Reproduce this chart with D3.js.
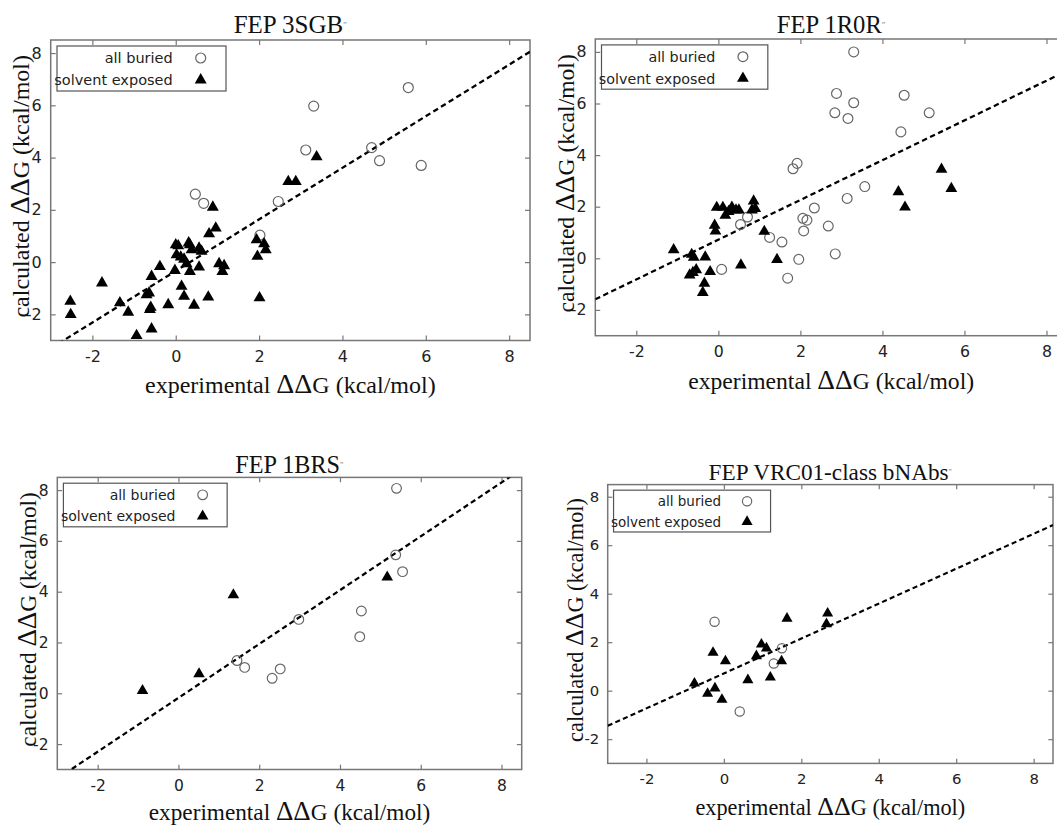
<!DOCTYPE html>
<html>
<head>
<meta charset="utf-8">
<script src="https://cdn.jsdelivr.net/npm/d3@7"></script>
<style>
  body { margin: 0; background: #fff; }
</style>
</head>
<body>
<div id="chart"></div>
<script>
// tick values shared by every panel
var xTicks = [-2, 0, 2, 4, 6, 8];
var yTicks = [-2, 0, 2, 4, 6, 8];
var seriesNames = ["all buried", "solvent exposed"];
var titles = ["FEP 3SGB", "FEP 1R0R", "FEP 1BRS", "FEP VRC01-class bNAbs"];

// [experimental, calculated] pairs
var buried3SGB = [[0.47, 2.60], [0.67, 2.25], [2.46, 2.32], [3.12, 4.29], [3.31, 5.97], [4.70, 4.38],
  [4.89, 3.88], [5.58, 6.68], [5.89, 3.70], [2.02, 1.03]];
var exposed3SGB = [[-2.53, -1.50], [-2.52, -2.01], [-1.77, -0.80], [-1.34, -1.56], [-1.14, -1.92],
  [-0.94, -2.81], [-0.70, -1.25], [-0.64, -1.18], [-0.58, -0.55], [-0.60, -1.73], [-0.62, -1.82],
  [-0.58, -2.56], [-0.38, -0.17], [-0.18, -1.63], [-0.02, -0.32], [0.00, 0.66], [0.02, 0.28],
  [0.06, 0.62], [0.12, 0.19], [0.14, -0.93], [0.20, -1.31], [0.20, 0.11], [0.26, -0.06], [0.31, 0.73],
  [0.34, 0.66], [0.34, -0.36], [0.38, 0.47], [0.44, -1.65], [0.56, 0.53], [0.56, -0.19], [0.62, 0.41],
  [0.78, -1.34], [0.80, 1.08], [0.89, 2.10], [0.96, 1.30], [1.04, -0.06], [1.12, -0.36], [1.16, -0.14],
  [1.94, 0.85], [1.96, 0.22], [2.01, -1.37], [2.12, 0.70], [2.16, 0.47], [2.70, 3.08], [2.88, 3.08],
  [3.38, 4.03]];
var fit3SGB = [[-3, -3.30], [8.5, 8.05]];

var buried1R0R = [[3.30, 8.00], [2.88, 6.39], [2.84, 5.64], [3.30, 6.03], [3.16, 5.42], [4.53, 6.32],
  [5.14, 5.64], [4.45, 4.90], [1.92, 3.68], [1.82, 3.47], [3.57, 2.78], [3.14, 2.32], [2.34, 1.95],
  [2.06, 1.55], [2.16, 1.48], [2.08, 1.06], [2.68, 1.25], [1.25, 0.81], [1.55, 0.63], [0.54, 1.31],
  [0.71, 1.60], [0.08, -0.43], [1.96, -0.04], [1.69, -0.77], [2.85, 0.17]];
var exposed1R0R = [[-1.09, 0.33], [-0.65, 0.15], [-0.60, 0.04], [-0.32, 0.05], [-0.70, -0.65],
  [-0.62, -0.55], [-0.54, -0.45], [-0.20, -0.52], [-0.34, -0.97], [-0.38, -1.33], [-0.09, 1.28],
  [-0.07, 1.05], [-0.04, 1.97], [0.11, 1.97], [0.17, 1.66], [0.25, 1.81], [0.33, 1.98], [0.43, 1.87],
  [0.50, 1.87], [0.86, 2.22], [0.90, 1.93], [0.82, 1.87], [1.12, 1.04], [0.55, -0.26], [1.43, -0.05],
  [4.39, 2.58], [4.55, 1.98], [5.44, 3.45], [5.68, 2.70]];
var fit1R0R = [[-3, -1.59], [8.5, 7.27]];

var buried1BRS = [[5.40, 8.07], [5.38, 5.45], [5.55, 4.79], [4.53, 3.24], [4.49, 2.23], [2.98, 2.91],
  [1.45, 1.29], [1.64, 1.02], [2.32, 0.59], [2.52, 0.96]];
var exposed1BRS = [[-0.89, 0.10], [0.51, 0.76], [1.36, 3.87], [5.17, 4.57]];
var fit1BRS = [[-3, -3.36], [8.5, 8.83]];

var buriedVRC01 = [[-0.24, 2.84], [1.50, 1.75], [1.29, 1.12], [0.41, -0.86]];
var exposedVRC01 = [[-0.76, 0.30], [-0.42, -0.12], [-0.23, 0.10], [-0.05, -0.37], [-0.28, 1.57],
  [0.04, 1.22], [0.62, 0.44], [0.97, 1.91], [1.10, 1.75], [0.84, 1.43], [1.20, 0.55], [1.49, 1.22],
  [1.63, 2.98], [2.68, 3.19], [2.65, 2.75]];
var fitVRC01 = [[-3, -1.45], [8.5, 6.83]];

var width = 1057, height = 827;
var serif = "'Liberation Serif', 'Times New Roman', serif";
var sans = "'DejaVu Sans', sans-serif";

// where each panel sits on the page
var panels = [
  { title: titles[0], buried: buried3SGB, exposed: exposed3SGB, fit: fit3SGB,
    left: 50.7, right: 530, top: 40, bottom: 340.5, titleY: 33, xlabY: 393, ylabX: 29 },
  { title: titles[1], buried: buried1R0R, exposed: exposed1R0R, fit: fit1R0R,
    left: 595.3, right: 1067, top: 39, bottom: 335.7, titleY: 33, xlabY: 389, ylabX: 574 },
  { title: titles[2], buried: buried1BRS, exposed: exposed1BRS, fit: fit1BRS,
    left: 57.3, right: 521.7, top: 477.4, bottom: 769.5, titleY: 473, xlabY: 820, ylabX: 36 },
  { title: titles[3], buried: buriedVRC01, exposed: exposedVRC01, fit: fitVRC01,
    left: 607.7, right: 1053, top: 484.6, bottom: 763.4, titleY: 480, xlabY: 815, ylabX: 583 }
];

var svg = d3.select("#chart").append("svg")
  .attr("width", width).attr("height", height)
  .style("background", "#fff");

var fmt = function (d) { return String(d); };

panels.forEach(function (p, i) {
  var k = (p.right - p.left) / 479.3;
  var x = d3.scaleLinear().domain([-3, 8.5]).range([p.left, p.right]);
  var y = d3.scaleLinear().domain([-3, 8.5]).range([p.bottom, p.top]);
  var g = svg.append("g");

  var clipId = "clip" + i;
  svg.append("clipPath").attr("id", clipId).append("rect")
    .attr("x", p.left).attr("y", p.top)
    .attr("width", p.right - p.left).attr("height", p.bottom - p.top);

  var tl = 5 * k;
  g.append("g").attr("transform", "translate(0," + p.bottom + ")")
    .call(d3.axisBottom(x).tickValues(xTicks).tickSizeInner(-tl).tickSizeOuter(0).tickPadding(10.5 * k).tickFormat(fmt));
  g.append("g").attr("transform", "translate(0," + p.top + ")")
    .call(d3.axisTop(x).tickValues(xTicks).tickSizeInner(-tl).tickSizeOuter(0).tickFormat(""));
  g.append("g").attr("transform", "translate(" + p.left + ",0)")
    .call(d3.axisLeft(y).tickValues(yTicks).tickSizeInner(-tl).tickSizeOuter(0).tickPadding(9 * k).tickFormat(fmt));
  g.append("g").attr("transform", "translate(" + p.right + ",0)")
    .call(d3.axisRight(y).tickValues(yTicks).tickSizeInner(-tl).tickSizeOuter(0).tickFormat(""));

  g.selectAll(".domain").remove();
  g.selectAll(".tick line").attr("stroke", "#777").attr("stroke-width", 1.2);
  g.selectAll(".tick text").attr("fill", "#222")
    .style("font-family", sans).style("font-size", (16 * k) + "px");

  g.append("rect")
    .attr("x", p.left).attr("y", p.top)
    .attr("width", p.right - p.left).attr("height", p.bottom - p.top)
    .attr("fill", "none").attr("stroke", "#777").attr("stroke-width", 1.5);

  // dashed fit line
  g.append("path").datum(p.fit)
    .attr("clip-path", "url(#" + clipId + ")")
    .attr("d", d3.line().x(function (d) { return x(d[0]); }).y(function (d) { return y(d[1]); }))
    .attr("fill", "none").attr("stroke", "#000")
    .attr("stroke-width", 2.3 * k).attr("stroke-dasharray", (5.5 * k) + "," + (3.5 * k));

  var pts = g.append("g").attr("clip-path", "url(#" + clipId + ")");
  pts.selectAll("circle").data(p.buried).enter().append("circle")
    .attr("cx", function (d) { return x(d[0]); })
    .attr("cy", function (d) { return y(d[1]); })
    .attr("r", 5 * k)
    .attr("fill", "none").attr("stroke", "#666").attr("stroke-width", 1.2);

  var tri = d3.symbol().type(d3.symbolTriangle).size(62 * k * k);
  pts.selectAll("path.tri").data(p.exposed).enter().append("path")
    .attr("class", "tri")
    .attr("d", tri)
    .attr("transform", function (d) { return "translate(" + x(d[0]) + "," + y(d[1]) + ")"; })
    .attr("fill", "#000");

  // legend
  var lg = g.append("g");
  lg.append("rect")
    .attr("x", p.left + 6.3 * k).attr("y", p.top + 6 * k)
    .attr("width", 169 * k).attr("height", 45 * k)
    .attr("fill", "#fff").attr("stroke", "#555").attr("stroke-width", 1.2);
  seriesNames.forEach(function (name, j) {
    var ry = p.top + (18 + 22 * j) * k;
    lg.append("text")
      .attr("x", p.left + 122 * k).attr("y", ry).attr("dy", "0.36em")
      .attr("text-anchor", "end")
      .style("font-family", sans).style("font-size", (14.5 * k) + "px")
      .attr("fill", "#222")
      .text(name);
    if (j === 0) {
      lg.append("circle")
        .attr("cx", p.left + 150 * k).attr("cy", ry).attr("r", 5 * k)
        .attr("fill", "none").attr("stroke", "#666").attr("stroke-width", 1.2);
    } else {
      lg.append("path").attr("d", tri)
        .attr("transform", "translate(" + (p.left + 150 * k) + "," + ry + ")")
        .attr("fill", "#000");
    }
  });

  // title with its small trailing mark
  var t = g.append("text")
    .attr("x", (p.left + p.right) / 2).attr("y", p.titleY)
    .attr("text-anchor", "middle")
    .style("font-family", serif).style("font-size", (25 * k) + "px")
    .attr("fill", "#111");
  t.append("tspan").text(p.title);
  t.append("tspan").attr("dy", -5 * k).style("font-size", (9 * k) + "px").attr("fill", "#777").text("\u2033");

  // axis labels
  var xl = g.append("text")
    .attr("x", (p.left + p.right) / 2).attr("y", p.xlabY)
    .attr("text-anchor", "middle")
    .style("font-family", serif).style("font-size", (24 * k) + "px")
    .attr("fill", "#111");
  xl.append("tspan").text("experimental ");
  xl.append("tspan").style("font-size", (28 * k) + "px").text("\u0394\u0394");
  xl.append("tspan").text("G (kcal/mol)");

  var yl = g.append("text")
    .attr("transform", "translate(" + p.ylabX + "," + ((p.top + p.bottom) / 2 - 4) + ") rotate(-90)")
    .attr("text-anchor", "middle")
    .style("font-family", serif).style("font-size", (24 * k) + "px")
    .attr("fill", "#111");
  yl.append("tspan").text("calculated ");
  yl.append("tspan").style("font-size", (28 * k) + "px").text("\u0394\u0394");
  yl.append("tspan").text("G (kcal/mol)");
});
</script>
</body>
</html>
